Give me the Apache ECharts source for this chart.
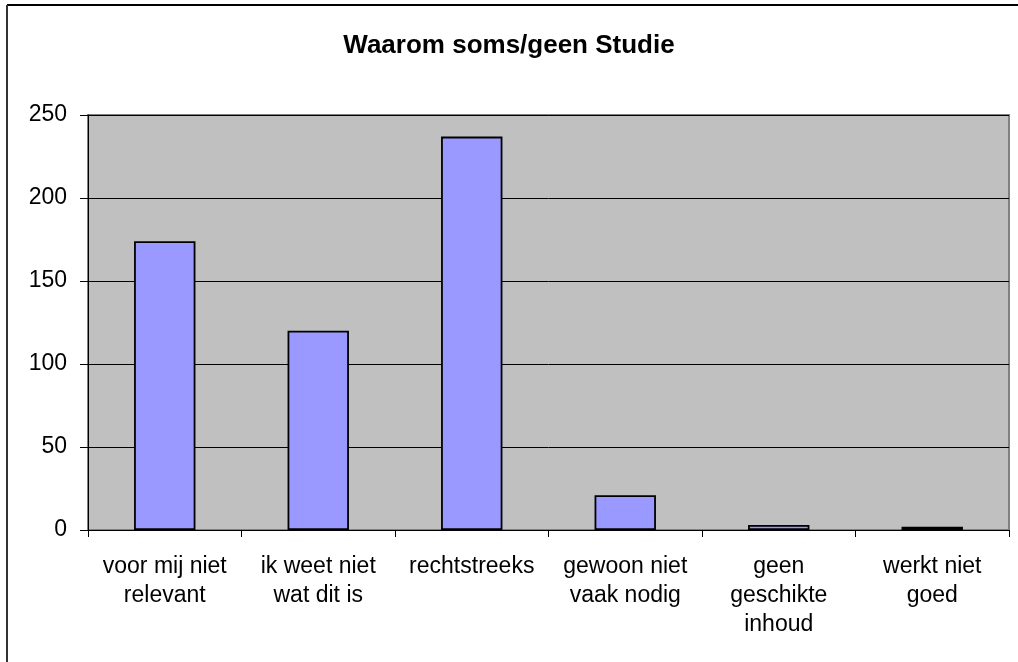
<!DOCTYPE html>
<html>
<head>
<meta charset="utf-8">
<script src="https://cdn.jsdelivr.net/npm/echarts@6/dist/echarts.min.js"></script>
<style>
  html, body { margin: 0; padding: 0; background: #fff; }
  #chart { width: 1018px; height: 662px; }
</style>
</head>
<body>
<div id="chart"></div>
<script>
// categorieën en aantallen
var categories = [
  'voor mij niet\nrelevant',
  'ik weet niet\nwat dit is',
  'rechtstreeks',
  'gewoon niet\nvaak nodig',
  'geen\ngeschikte\ninhoud',
  'werkt niet\ngoed'
];
var counts = [174, 120, 237, 21, 3, 2];
var yTicks = { min: 0, max: 250, interval: 50 };

var chart = echarts.init(document.getElementById('chart'));
chart.setOption({
  animation: false,
  backgroundColor: '#fff',
  textStyle: { fontFamily: 'Liberation Sans, Arial, sans-serif' },
  title: {
    text: 'Waarom soms/geen Studie',
    left: 'center',
    top: 28,
    textStyle: { fontSize: 26, fontWeight: 'bold', color: '#000' }
  },
  // kader linksboven (rechts en onder vallen buiten beeld)
  graphic: [
    { type: 'line', shape: { x1: 7, y1: 5, x2: 1018, y2: 5 }, style: { stroke: '#000', lineWidth: 2 } },
    { type: 'line', shape: { x1: 7, y1: 5, x2: 7, y2: 662 }, style: { stroke: '#333', lineWidth: 2 } }
  ],
  grid: {
    left: 88, right: 9, top: 115, bottom: 132,
    show: true,
    backgroundColor: '#C0C0C0',
    borderColor: '#808080',
    borderWidth: 2
  },
  xAxis: {
    type: 'category',
    data: categories,
    axisLine: { lineStyle: { color: '#000', width: 1 } },
    axisTick: { show: true, length: 7, interval: 0, lineStyle: { color: '#000' } },
    axisLabel: { interval: 0, fontSize: 23, color: '#000', lineHeight: 29, margin: 22 }
  },
  yAxis: {
    type: 'value',
    min: yTicks.min,
    max: yTicks.max,
    interval: yTicks.interval,
    axisLine: { show: true, lineStyle: { color: '#000', width: 1 } },
    axisTick: { show: true, length: 8, lineStyle: { color: '#000' } },
    axisLabel: { fontSize: 23, color: '#000', margin: 21 },
    splitLine: { lineStyle: { color: '#000', width: 1 } }
  },
  series: [{
    type: 'bar',
    data: counts,
    barWidth: '40%',
    itemStyle: { color: '#9999FF', borderColor: '#000', borderWidth: 1.8 }
  }]
});
</script>
</body>
</html>
